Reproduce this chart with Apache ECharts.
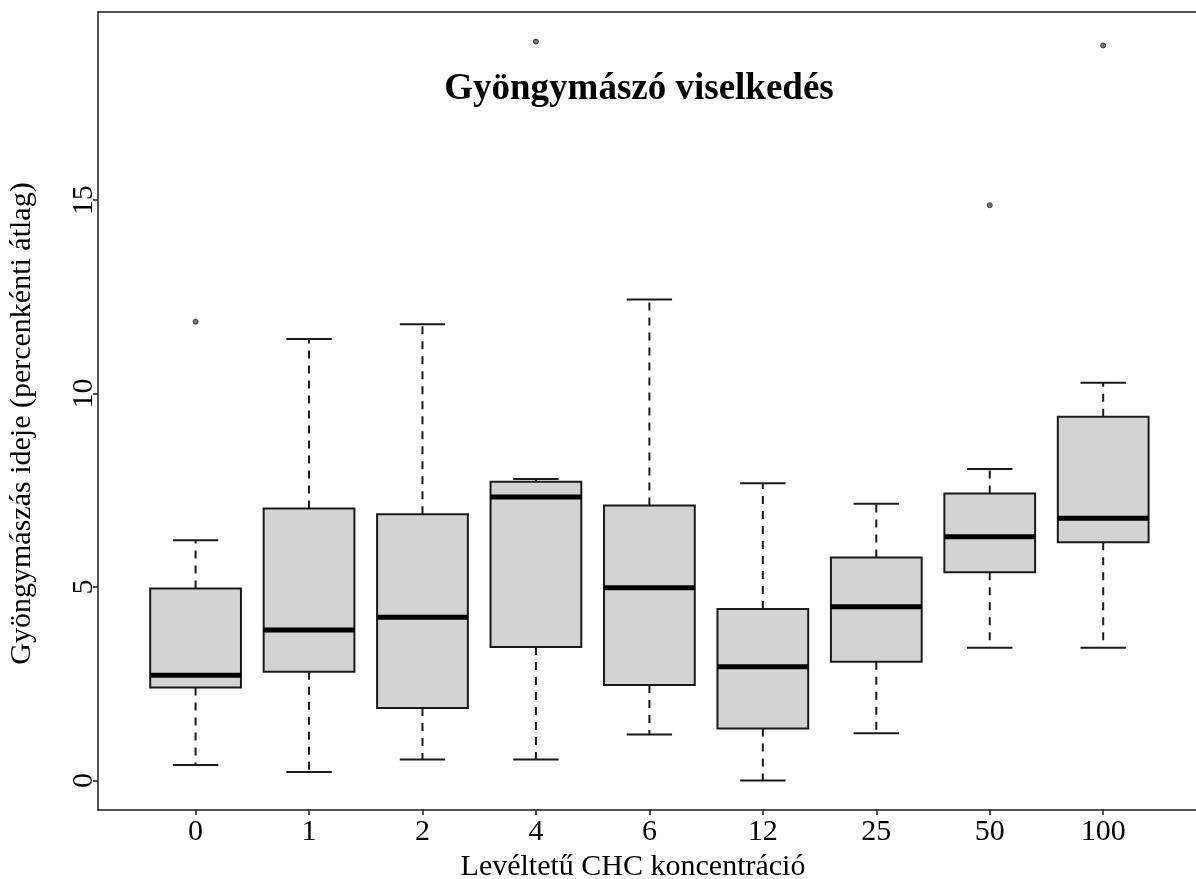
<!DOCTYPE html>
<html>
<head>
<meta charset="utf-8">
<script src="https://cdn.jsdelivr.net/npm/echarts@6/dist/echarts.min.js"></script>
<style>
html,body{margin:0;padding:0;background:#fff;overflow:hidden;}
#chart{width:1196px;height:879px;}
</style>
</head>
<body>
<div id="chart"></div>
<script>
// ---- data ----
var categories = ['0', '1', '2', '4', '6', '12', '25', '50', '100'];
var lowerWhisker = [0.40, 0.22, 0.54, 0.54, 1.19, 0.00, 1.22, 3.43, 3.43];
var q1Values     = [2.40, 2.81, 1.87, 3.45, 2.47, 1.34, 3.07, 5.38, 6.16];
var medianValues = [2.72, 3.89, 4.22, 7.33, 4.98, 2.94, 4.49, 6.30, 6.78];
var q3Values     = [4.96, 7.03, 6.88, 7.72, 7.11, 4.43, 5.76, 7.42, 9.40];
var upperWhisker = [6.21, 11.41, 11.79, 7.79, 12.43, 7.68, 7.15, 8.05, 10.28];
var outlierCategory = ['0', '4', '50', '100'];
var outlierValues   = [11.86, 19.10, 14.87, 19.00];
var yTickValues = [0, 5, 10, 15];

var titleText = 'Gyöngymászó viselkedés';
var xAxisTitle = 'Levéltetű CHC koncentráció';
var yAxisTitle = 'Gyöngymászás ideje (percenkénti átlag)';

// ---- build series data ----
var boxData = categories.map(function (c, i) {
  return [i + 1, lowerWhisker[i], q1Values[i], medianValues[i], q3Values[i], upperWhisker[i]];
});
var outlierData = outlierCategory.map(function (c, i) {
  return [categories.indexOf(c) + 1, outlierValues[i]];
});
var xPositions = categories.map(function (c, i) { return i + 1; });

var FONT = 'Liberation Serif';
var INK = '#1a1a1a';

var chart = echarts.init(document.getElementById('chart'));
chart.setOption({
  animation: false,
  backgroundColor: '#ffffff',
  title: {
    text: titleText,
    left: 634,
    top: 66,
    textAlign: 'center',
    textStyle: { fontFamily: FONT, fontSize: 37, fontWeight: 'bold', color: '#000' }
  },
  grid: { left: 98, right: 0, top: 12, bottom: 69, containLabel: false, outerBoundsMode: 'none' },
  xAxis: [{
    type: 'value',
    min: 0.14,
    max: 9.818,
    position: 'bottom',
    name: xAxisTitle,
    nameLocation: 'middle',
    nameGap: 40,
    nameTextStyle: { fontFamily: FONT, fontSize: 30, color: '#000', verticalAlign: 'top', align: 'center', padding: [0, 28, 0, 0] },
    axisLine: { show: true, onZero: false, lineStyle: { color: INK, width: 1.5 } },
    axisTick: { show: true, length: 5, customValues: xPositions, lineStyle: { color: INK, width: 1.5 } },
    axisLabel: {
      show: true, margin: 7, customValues: xPositions,
      fontFamily: FONT, fontSize: 30, color: '#000',
      formatter: function (v) { return categories[Math.round(v) - 1] || ''; }
    },
    splitLine: { show: false }
  }, {
    type: 'value',
    min: 0.14,
    max: 9.818,
    position: 'top',
    axisLine: { show: true, onZero: false, lineStyle: { color: INK, width: 1.5 } },
    axisTick: { show: false },
    axisLabel: { show: false },
    splitLine: { show: false }
  }],
  yAxis: {
    type: 'value',
    min: -0.764,
    max: 19.864,
    name: yAxisTitle,
    nameLocation: 'middle',
    nameRotate: 90,
    nameGap: 76,
    nameTextStyle: { fontFamily: FONT, fontSize: 30, color: '#000', verticalAlign: 'middle', align: 'center', padding: [0, 25, 0, 0] },
    axisLine: { show: true, onZero: false, lineStyle: { color: INK, width: 1.5 } },
    axisTick: { show: true, length: 5, customValues: yTickValues, lineStyle: { color: INK, width: 1.5 } },
    axisLabel: {
      show: true, customValues: yTickValues, rotate: 90, margin: 14,
      align: 'center', verticalAlign: 'middle',
      fontFamily: FONT, fontSize: 30, color: '#000'
    },
    splitLine: { show: false }
  },
  series: [{
    type: 'custom',
    xAxisIndex: 0,
    data: boxData,
    encode: { x: 0, y: [1, 2, 3, 4, 5] },
    renderItem: function (params, api) {
      var x = api.value(0);
      var lw = api.coord([x, api.value(1)]);
      var q1 = api.coord([x, api.value(2)]);
      var md = api.coord([x, api.value(3)]);
      var q3 = api.coord([x, api.value(4)]);
      var uw = api.coord([x, api.value(5)]);
      var half = api.size([0.8, 0])[0] / 2;
      var capHalf = api.size([0.4, 0])[0] / 2;
      var cx = lw[0];
      var dashed = { stroke: INK, lineWidth: 2, lineDash: [8, 7] };
      var solid = { stroke: INK, lineWidth: 2 };
      return {
        type: 'group',
        children: [
          { type: 'line', shape: { x1: cx, y1: q3[1], x2: cx, y2: uw[1] }, style: dashed },
          { type: 'line', shape: { x1: cx, y1: q1[1], x2: cx, y2: lw[1] }, style: dashed },
          { type: 'line', shape: { x1: cx - capHalf, y1: uw[1], x2: cx + capHalf, y2: uw[1] }, style: solid },
          { type: 'line', shape: { x1: cx - capHalf, y1: lw[1], x2: cx + capHalf, y2: lw[1] }, style: solid },
          { type: 'rect', shape: { x: cx - half, y: q3[1], width: half * 2, height: q1[1] - q3[1] },
            style: { fill: '#d3d3d3', stroke: INK, lineWidth: 2 } },
          { type: 'line', shape: { x1: cx - half, y1: md[1], x2: cx + half, y2: md[1] },
            style: { stroke: '#000', lineWidth: 5 } }
        ]
      };
    }
  }, {
    type: 'scatter',
    xAxisIndex: 0,
    data: outlierData,
    symbol: 'circle',
    symbolSize: 5,
    itemStyle: { color: '#555', borderColor: '#222', borderWidth: 1 }
  }]
});
</script>
</body>
</html>
